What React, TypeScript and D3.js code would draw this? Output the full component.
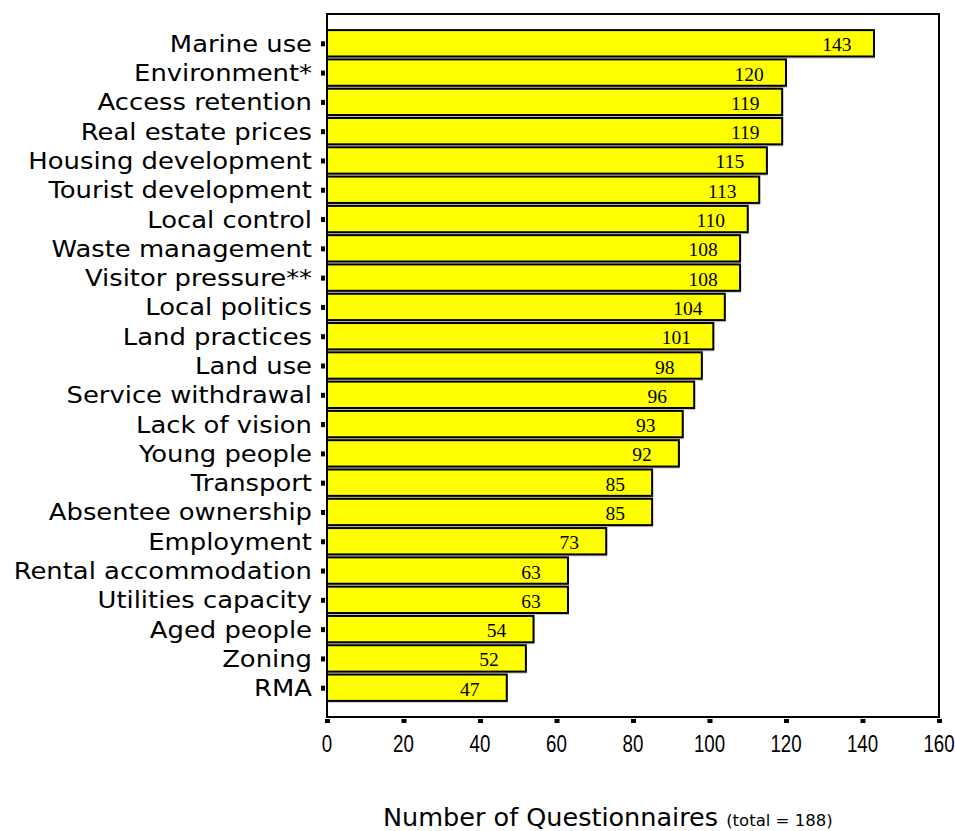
import * as d3 from 'd3'

const categories = [
  'Marine use', 'Environment*', 'Access retention ', 'Real estate prices', 'Housing development ',
  'Tourist development ', 'Local control', 'Waste management ', 'Visitor pressure**', 'Local politics',
  'Land practices ', 'Land use', 'Service withdrawal ', 'Lack of vision', 'Young people ',
  'Transport', 'Absentee ownership ', 'Employment', 'Rental accommodation', 'Utilities capacity',
  'Aged people', 'Zoning', 'RMA',
]
const counts = [143, 120, 119, 119, 115, 113, 110, 108, 108, 104, 101, 98, 96, 93, 92, 85, 85, 73, 63, 63, 54, 52, 47]
const xTicks = [0, 20, 40, 60, 80, 100, 120, 140, 160]

const W = 955
const H = 831
const left = 327
const right = 939
const top = 14
const bottom = 717

const sans = "'DejaVu Sans', Verdana, sans-serif"

export default function App() {
  const x = d3.scaleLinear().domain([0, 160]).range([left, right])
  const y = d3.scaleBand<string>().domain(categories).range([top, bottom]).paddingInner(0.1).paddingOuter(0.55)
  const bw = y.bandwidth()

  return (
    <svg width={W} height={H} style={{ position: 'absolute', left: 0, top: 0, background: '#fff' }}>
      {categories.map((c, i) => {
        const y0 = y(c) ?? 0
        const cy = y0 + bw / 2
        return (
          <g key={c}>
            <rect x={x(0) + 1} y={y0 + 2} width={x(counts[i]) - x(0)} height={bw} fill="#c8c8c8" />
            <rect x={x(0)} y={y0} width={x(counts[i]) - x(0)} height={bw} fill="#ffff00" stroke="#000" strokeWidth={2} />
            <text x={x(counts[i]) - 37} y={cy + 8} textAnchor="middle" fontFamily="'Liberation Serif', 'DejaVu Serif', serif" fontSize={19.5} fill="#000">
              {counts[i]}
            </text>
            <rect x={left - 6} y={cy - 2} width={4} height={5} fill="#000" />
            <g transform={`translate(${left - 15},${cy + 8.5}) scale(1.1,1)`}>
              <text x={0} y={0} textAnchor="end" fontFamily={sans} fontSize={23.5} fill="#000">
                {c.trimEnd()}
              </text>
            </g>
          </g>
        )
      })}
      <rect x={left} y={top} width={right - left} height={bottom - top} fill="none" stroke="#000" strokeWidth={2} />
      {xTicks.map((t) => (
        <g key={t}>
          <rect x={x(t) - 2} y={bottom + 2} width={5} height={4} fill="#000" />
          <g transform={`translate(${x(t)},752) scale(0.78,1)`}>
            <text x={0} y={0} textAnchor="middle" fontFamily="'Liberation Sans', Arial, sans-serif" fontSize={24} fill="#000">
              {t}
            </text>
          </g>
        </g>
      ))}
      <text x={383} y={826} fontFamily={sans} fill="#000">
        <tspan fontSize={25.5}>Number of Questionnaires </tspan>
        <tspan fontSize={16.5}>(total = 188)</tspan>
      </text>
    </svg>
  )
}
